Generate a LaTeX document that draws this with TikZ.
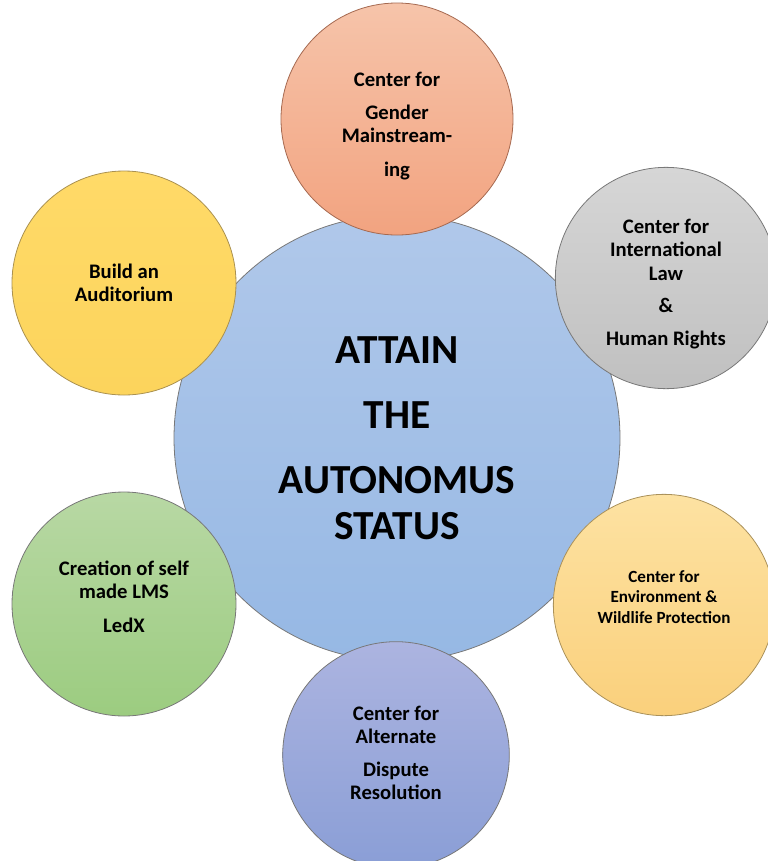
\documentclass[tikz,border=0pt]{standalone}
\usepackage{fontspec}
\setmainfont{Carlito}
\usetikzlibrary{positioning}

\definecolor{hubTop}{RGB}{176,200,234}
\definecolor{hubBot}{RGB}{150,184,228}
\definecolor{genderTop}{RGB}{246,196,170}
\definecolor{genderBot}{RGB}{242,163,128}
\definecolor{lawTop}{RGB}{214,214,214}
\definecolor{lawBot}{RGB}{192,192,192}
\definecolor{audiTop}{RGB}{255,218,104}
\definecolor{audiBot}{RGB}{252,212,92}
\definecolor{lmsTop}{RGB}{184,216,164}
\definecolor{lmsBot}{RGB}{156,204,128}
\definecolor{envTop}{RGB}{253,226,162}
\definecolor{envBot}{RGB}{250,208,124}
\definecolor{adrTop}{RGB}{172,180,224}
\definecolor{adrBot}{RGB}{138,158,214}

\tikzset{
  bubble/.style={circle, draw={rgb,255:red,120;green,120;blue,120}, line width=0.6pt,
    inner sep=0pt},
  caption/.style={align=center, inner sep=0pt, font=\bfseries\fontsize{15.5}{17.5}\selectfont},
}

\begin{document}
\begin{tikzpicture}[x=0.75pt,y=0.75pt,yscale=-1,xscale=1]
\useasboundingbox (0,0) rectangle (768,861);

%Shape: Circle, the hub
\node [bubble, minimum size=334.5pt, top color=hubTop, bottom color=hubBot] (hub) at (397,438) {};

%Shape: Circle, top
\node [bubble, minimum size=174pt, top color=genderTop, bottom color=genderBot,
  draw={rgb,255:red,165;green,105;blue,80}] (gender) at (397,119) {};
%Shape: Circle, top right
\node [bubble, minimum size=166pt, top color=lawTop, bottom color=lawBot] (law) at (666,278) {};
%Shape: Circle, top left
\node [bubble, minimum size=168pt, top color=audiTop, bottom color=audiBot,
  draw={rgb,255:red,170;green,145;blue,80}] (audi) at (124,283) {};
%Shape: Circle, bottom left
\node [bubble, minimum size=168pt, top color=lmsTop, bottom color=lmsBot] (lms) at (124,604) {};
%Shape: Circle, bottom right
\node [bubble, minimum size=166pt, top color=envTop, bottom color=envBot,
  draw={rgb,255:red,170;green,145;blue,90}] (env) at (664,605) {};
%Shape: Circle, bottom
\node [bubble, minimum size=170pt, top color=adrTop, bottom color=adrBot] (adr) at (396,755) {};

% Text Node
\node [caption, font=\bfseries\fontsize{31}{34}\selectfont] (hubText) at (hub.center)
  {ATTAIN\\[15pt] THE\\[15pt] AUTONOMUS\\ STATUS};
% Text Node
\node [caption] (genderText) at ([yshift=5.25pt]gender.center)
  {Center for\\[7pt] Gender\\ Mainstream-\\[8pt] ing};
% Text Node
\node [caption] (lawText) at ([yshift=4.5pt]law.center)
  {Center for\\ International\\ Law\\[7pt] \&\\[7pt] Human Rights};
% Text Node
\node [caption] (audiText) at (audi.center) {Build an\\ Auditorium};
% Text Node
\node [caption] (lmsText) at ([yshift=-5.25pt]lms.center)
  {Creation of self\\ made LMS\\[8pt] LedX};
% Text Node
\node [caption, font=\bfseries\fontsize{12.8}{15.5}\selectfont] (envText) at ([yshift=-6pt]env.center)
  {Center for\\ Environment \&\\ Wildlife Protection};
% Text Node
\node [caption] (adrText) at ([yshift=-1.5pt]adr.center)
  {Center for\\ Alternate\\[7pt] Dispute\\ Resolution};

\end{tikzpicture}
\end{document}
